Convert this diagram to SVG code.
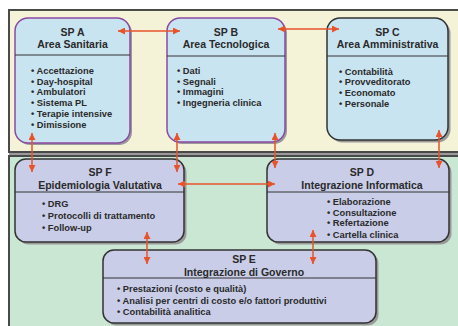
<svg xmlns="http://www.w3.org/2000/svg" width="458" height="326" viewBox="0 0 458 326">
<defs>
<marker id="ah" viewBox="0 0 10 10" refX="10" refY="5" markerWidth="7" markerHeight="7" markerUnits="userSpaceOnUse" orient="auto-start-reverse">
<path d="M0,0 L10,5 L0,10 Z" fill="#e8532b"/>
</marker>
</defs>
<style>
.panel{stroke:#4a4a4a;stroke-width:2}
.shadow{fill:#9a9a9a}
.top{fill:#c9e4f1}
.bot{fill:#c9cde8}
.sp{stroke:#8a4aa2;stroke-width:1.5}
.sd{stroke:#333;stroke-width:1.5}
.div{stroke:#333;stroke-width:1}
.t{font-family:"Liberation Sans",Arial,sans-serif;font-weight:bold;font-size:10.5px;fill:#2a2a2a;text-anchor:middle}
.b{font-family:"Liberation Sans",Arial,sans-serif;font-weight:bold;font-size:9.3px;fill:#2a2a2a}
.c{stroke:#e8532b;stroke-width:1.5;fill:none;marker-start:url(#ah);marker-end:url(#ah)}
</style>
<rect width="458" height="326" fill="#ffffff"/>
<rect x="9" y="10" width="456" height="142" fill="#f4f2d7" class="panel"/>
<rect x="9" y="156" width="456" height="176" fill="#c9e7d3" class="panel"/>
<line x1="9" y1="154" x2="458" y2="154" stroke="#9a9a9a" stroke-width="2"/>

<g id="spA">
<rect x="17" y="20" width="115" height="125" rx="13" class="shadow"/>
<rect x="15" y="18" width="115" height="125" rx="13" class="top sp"/>
<line x1="15" y1="55" x2="130" y2="55" class="div"/>
<text x="72.5" y="36" class="t">SP A</text>
<text x="72.5" y="48" class="t">Area Sanitaria</text>
<text x="31" y="74" class="b">• Accettazione</text>
<text x="31" y="84.5" class="b">• Day-hospital</text>
<text x="31" y="95" class="b">• Ambulatori</text>
<text x="31" y="105.5" class="b">• Sistema  PL</text>
<text x="31" y="116.5" class="b">• Terapie intensive</text>
<text x="31" y="127.5" class="b">• Dimissione</text>
</g>

<g id="spB">
<rect x="169" y="20" width="118" height="124" rx="13" class="shadow"/>
<rect x="167" y="18" width="118" height="124" rx="13" class="top sp"/>
<line x1="167" y1="56" x2="285" y2="56" class="div"/>
<text x="226" y="36" class="t">SP B</text>
<text x="226" y="48" class="t">Area Tecnologica</text>
<text x="177" y="74" class="b">• Dati</text>
<text x="177" y="84.5" class="b">• Segnali</text>
<text x="177" y="95" class="b">• Immagini</text>
<text x="177" y="106" class="b">• Ingegneria clinica</text>
</g>

<g id="spC">
<rect x="329.5" y="20.5" width="121" height="122" rx="13" class="shadow"/>
<rect x="327" y="18" width="121" height="122" rx="13" class="top sd"/>
<line x1="327" y1="56" x2="448" y2="56" class="div"/>
<text x="387.5" y="36" class="t">SP C</text>
<text x="387.5" y="48" class="t">Area Amministrativa</text>
<text x="339" y="74.5" class="b">• Contabilità</text>
<text x="339" y="85" class="b">• Provveditorato</text>
<text x="339" y="96" class="b">• Economato</text>
<text x="339" y="107" class="b">• Personale</text>
</g>

<g id="spF">
<rect x="17.5" y="161.5" width="169" height="83" rx="11" class="shadow"/>
<rect x="15" y="159" width="169" height="83" rx="11" class="bot sd"/>
<line x1="15" y1="192" x2="184" y2="192" class="div"/>
<text x="100" y="176" class="t">SP F</text>
<text x="100" y="189" class="t">Epidemiologia Valutativa</text>
<text x="42" y="207" class="b">• DRG</text>
<text x="42" y="219" class="b">• Protocolli di trattamento</text>
<text x="42" y="230.5" class="b">• Follow-up</text>
</g>

<g id="spD">
<rect x="269.5" y="161.5" width="182" height="83" rx="11" class="shadow"/>
<rect x="267" y="159" width="182" height="83" rx="11" class="bot sd"/>
<line x1="267" y1="192" x2="449" y2="192" class="div"/>
<text x="362" y="176" class="t">SP D</text>
<text x="362" y="189" class="t">Integrazione Informatica</text>
<text x="327" y="205" class="b">• Elaborazione</text>
<text x="327" y="215.5" class="b">• Consultazione</text>
<text x="327" y="226" class="b">• Refertazione</text>
<text x="327" y="238" class="b">• Cartella clinica</text>
</g>

<g id="spE">
<rect x="105.5" y="252.5" width="273" height="73" rx="11" class="shadow"/>
<rect x="103" y="250" width="273" height="73" rx="11" class="bot sd"/>
<line x1="103" y1="278" x2="376" y2="278" class="div"/>
<text x="244" y="263" class="t">SP E</text>
<text x="244" y="276" class="t">Integrazione di Governo</text>
<text x="117" y="292" class="b">• Prestazioni (costo e qualità)</text>
<text x="117" y="304" class="b">• Analisi  per centri di costo e/o fattori produttivi</text>
<text x="117" y="315" class="b">• Contabilità analitica</text>
</g>

<g id="connectors">
<line x1="118" y1="31" x2="180" y2="31" class="c"/>
<line x1="278" y1="29" x2="339" y2="29" class="c"/>
<line x1="32" y1="133" x2="32" y2="172" class="c"/>
<line x1="177" y1="133" x2="177" y2="172" class="c"/>
<line x1="275" y1="133" x2="275" y2="168" class="c"/>
<line x1="439" y1="130" x2="439" y2="168" class="c"/>
<line x1="178" y1="184" x2="275" y2="184" class="c"/>
<line x1="147" y1="232" x2="147" y2="264" class="c"/>
<line x1="313" y1="230" x2="313" y2="264" class="c"/>
</g>
</svg>
